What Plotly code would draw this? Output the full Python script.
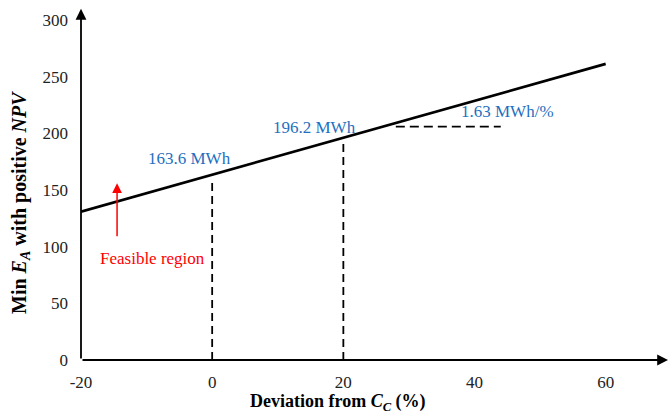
import plotly.graph_objects as go

deviation = [-20, 0, 20, 60]
min_ea = [131.0, 163.6, 196.2, 261.4]
x_ticks = [-20, 0, 20, 40, 60]
x_tick_text = ["-20", "0", "20", "40", "60"]
y_ticks = [0, 50, 100, 150, 200, 250, 300]
slope_x = [28, 44]
slope_y = [206, 206]
feasible_x = -14.5
feasible_y = [108, 156]

BLUE = "#1F6FC0"
FONT = "Liberation Serif"

fig = go.Figure()
fig.add_trace(go.Scatter(x=deviation, y=min_ea, mode="lines",
                         line=dict(color="black", width=2.8), hoverinfo="skip"))
for xv, yv in [(deviation[1], min_ea[1]), (deviation[2], min_ea[2])]:
    fig.add_trace(go.Scatter(x=[xv, xv], y=[0, yv - 5], mode="lines",
                             line=dict(color="black", width=1.8, dash="8px,5px")))
fig.add_trace(go.Scatter(x=slope_x, y=slope_y, mode="lines",
                         line=dict(color="black", width=1.8, dash="9px,5px")))

ann = []
ann.append(dict(x=69.5, y=0, ax=-20, ay=0, xref="x", yref="y", axref="x", ayref="y",
                text="", showarrow=True, arrowhead=2, arrowsize=1.2, arrowwidth=1.8,
                arrowcolor="black"))
ann.append(dict(x=-20, y=310, ax=-20, ay=0, xref="x", yref="y", axref="x", ayref="y",
                text="", showarrow=True, arrowhead=2, arrowsize=1.2, arrowwidth=1.8,
                arrowcolor="black"))
ann.append(dict(x=feasible_x, y=feasible_y[1], ax=feasible_x, ay=feasible_y[0],
                xref="x", yref="y", axref="x", ayref="y", text="", showarrow=True,
                arrowhead=2, arrowsize=1.3, arrowwidth=1.5, arrowcolor="red"))
ann.append(dict(x=-9.1, y=90, text="Feasible region", showarrow=False,
                font=dict(family=FONT, size=17, color="red")))
ann.append(dict(x=-3.5, y=178, text="163.6 MWh", showarrow=False,
                font=dict(family=FONT, size=17, color=BLUE)))
ann.append(dict(x=15.6, y=205, text="196.2 MWh", showarrow=False,
                font=dict(family=FONT, size=17, color=BLUE)))
ann.append(dict(x=45, y=219, text="1.63 MWh/%", showarrow=False,
                font=dict(family=FONT, size=17, color=BLUE)))
ann.append(dict(x=0.438, y=-0.12, xref="paper", yref="paper", showarrow=False,
                xanchor="center", yanchor="middle",
                text="<b>Deviation from <i>C<sub>C</sub></i> (%)</b>",
                font=dict(family=FONT, size=18, color="black")))
ann.append(dict(x=-0.102, y=0.449, xref="paper", yref="paper", showarrow=False,
                xanchor="center", yanchor="middle", textangle=-90,
                text="<b>Min <i>E<sub>A</sub></i> with positive <i>NPV</i></b>",
                font=dict(family=FONT, size=20, color="black")))

fig.update_layout(
    width=668, height=416,
    margin=dict(l=81, r=0, t=10, b=56),
    paper_bgcolor="white", plot_bgcolor="white",
    showlegend=False,
    annotations=ann,
    font=dict(family=FONT, size=17, color="#222"),
    xaxis=dict(range=[-20, 69.5], tickvals=x_ticks, ticktext=x_tick_text,
               showgrid=False, zeroline=False, automargin=False,
               showline=False, ticks="", ticklabelstandoff=10,
               tickfont=dict(family=FONT, size=17)),
    yaxis=dict(range=[0, 309], tickvals=y_ticks, showgrid=False, zeroline=False,
               automargin=False, showline=False, ticks="", ticklabelstandoff=12,
               tickfont=dict(family=FONT, size=17)),
)
fig.write_html("out.html", config={"displayModeBar": False},
               post_script="document.body.style.margin='0';")
